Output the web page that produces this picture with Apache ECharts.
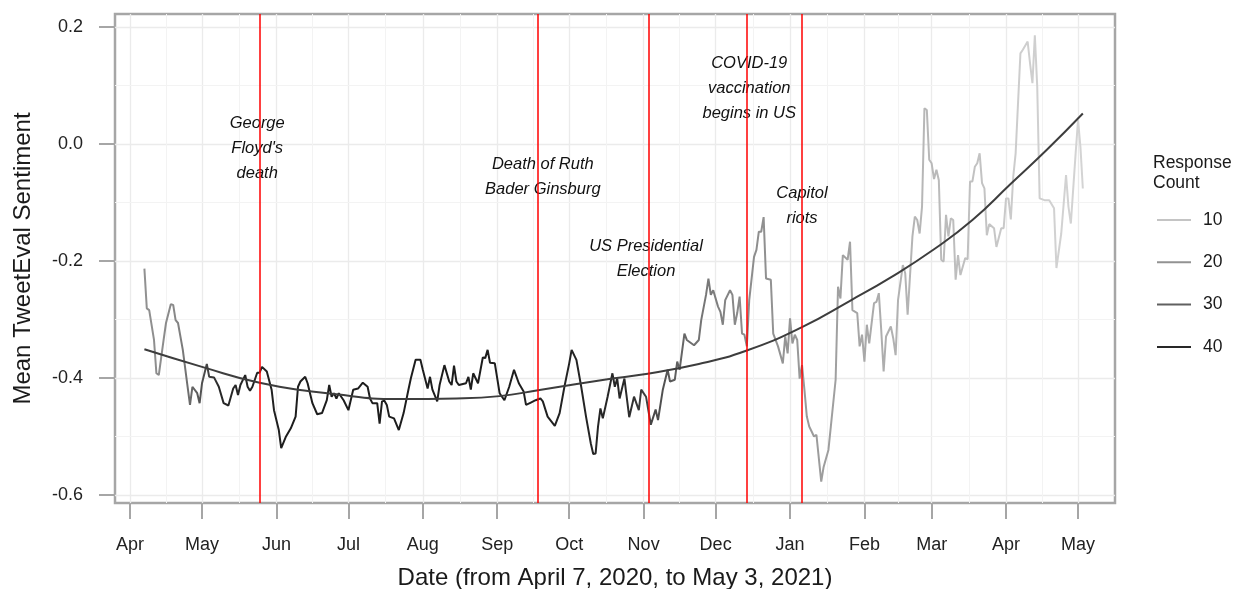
<!DOCTYPE html>
<html>
<head>
<meta charset="utf-8">
<title>Mean TweetEval Sentiment</title>
<script src="https://cdn.jsdelivr.net/npm/echarts@6/dist/echarts.min.js"></script>
<style>
  html, body { margin: 0; padding: 0; background: #fff; }
  #main { width: 1240px; height: 589px; }
</style>
</head>
<body>
<div id="main"></div>
<script type="text/javascript">
// all days are counted from April 7, 2020 (day 0) to May 3, 2021 (day 391)
var lineDays = [0,1,2,4,5,6,8,9,11,12,13,14,16,18,19,20,22,23,24,26,27,29,31,33,35,37,38,39,40,42,43,44,45,47,48,49,51,53,54,56,57,59,61,63,64,65,67,68,70,72,74,76,77,78,79,80,81,83,85,87,89,91,93,94,95,97,98,99,100,101,102,104,106,
  108,110,111,113,115,116,118,119,120,122,123,125,127,128,129,130,131,134,135,136,137,139,141,142,143,144,146,148,150,152,154,156,158,159,161,163,165,166,168,171,173,175,177,178,180,182,184,186,187,188,189,190,191,193,195,196,197,198,200,202,204,206,207,209,211,213,214,216,218,219,221,222,223,
  225,226,227,229,231,232,234,235,236,237,239,240,241,242,244,245,246,247,248,249,250,251,252,254,255,256,257,258,259,261,262,264,266,267,268,269,270,271,272,273,274,275,276,277,279,280,282,283,285,286,288,289,290,291,293,294,295,297,298,299,300,301,302,304,305,306,307,308,309,311,312,313,314,316,317,318,
  320,321,322,323,324,325,326,327,328,329,330,331,332,333,334,335,336,337,338,339,340,342,343,344,345,346,347,348,349,350,351,352,354,355,357,358,359,360,361,362,363,364,365,366,368,369,370,371,372,373,375,377,379,380,382,384,385,386,388,389,390,391];
var sentiment = [-0.213,-0.281,-0.284,-0.335,-0.392,-0.395,-0.335,-0.306,-0.274,-0.275,-0.301,-0.306,-0.352,-0.415,-0.446,-0.415,-0.426,-0.443,-0.409,-0.376,-0.398,-0.399,-0.415,-0.443,-0.447,-0.418,-0.412,-0.429,-0.412,-0.395,-0.415,-0.422,-0.415,-0.391,-0.391,-0.381,-0.389,-0.420,-0.455,-0.489,-0.520,-0.500,-0.486,-0.466,-0.415,-0.406,-0.398,-0.409,-0.443,-0.462,-0.460,-0.438,-0.412,-0.432,-0.426,-0.435,-0.426,-0.438,-0.455,-0.420,-0.418,-0.408,-0.415,-0.435,-0.443,-0.443,-0.478,-0.440,-0.439,-0.446,-0.466,-0.469,-0.489,
  -0.460,-0.420,-0.401,-0.369,-0.369,-0.386,-0.418,-0.398,-0.420,-0.440,-0.412,-0.378,-0.406,-0.412,-0.379,-0.406,-0.412,-0.409,-0.398,-0.420,-0.392,-0.409,-0.365,-0.366,-0.352,-0.374,-0.375,-0.426,-0.438,-0.415,-0.386,-0.409,-0.423,-0.446,-0.442,-0.438,-0.435,-0.440,-0.466,-0.482,-0.460,-0.415,-0.375,-0.352,-0.369,-0.415,-0.466,-0.512,-0.530,-0.529,-0.483,-0.452,-0.469,-0.432,-0.392,-0.415,-0.401,-0.435,-0.401,-0.467,-0.432,-0.455,-0.420,-0.432,-0.480,-0.454,-0.472,-0.420,-0.386,-0.406,-0.403,-0.372,-0.386,
  -0.324,-0.335,-0.338,-0.344,-0.335,-0.301,-0.258,-0.230,-0.258,-0.250,-0.278,-0.287,-0.309,-0.267,-0.250,-0.258,-0.309,-0.289,-0.261,-0.324,-0.326,-0.346,-0.267,-0.193,-0.181,-0.150,-0.150,-0.125,-0.230,-0.232,-0.324,-0.346,-0.375,-0.329,-0.358,-0.298,-0.341,-0.326,-0.335,-0.401,-0.378,-0.420,-0.466,-0.483,-0.500,-0.497,-0.577,-0.552,-0.523,-0.483,-0.403,-0.244,-0.264,-0.190,-0.198,-0.167,-0.284,-0.289,-0.346,-0.326,-0.372,-0.309,-0.341,-0.272,-0.270,-0.255,-0.318,-0.389,-0.329,-0.312,-0.332,-0.361,-0.267,-0.207,-0.221,-0.292,
  -0.158,-0.124,-0.130,-0.153,-0.107,0.061,0.058,-0.027,-0.033,-0.060,-0.044,-0.062,-0.198,-0.201,-0.121,-0.158,-0.127,-0.130,-0.232,-0.190,-0.224,-0.195,-0.197,-0.064,-0.064,-0.039,-0.033,-0.016,-0.067,-0.076,-0.156,-0.137,-0.144,-0.176,-0.144,-0.144,-0.093,-0.093,-0.129,-0.056,-0.016,0.070,0.155,0.161,0.175,0.138,0.104,0.186,0.098,-0.093,-0.096,-0.096,-0.110,-0.212,-0.153,-0.053,-0.107,-0.136,-0.016,0.041,-0.005,-0.076];

// number of responses behind each daily mean (drives the grey shade)
var countDays = [0, 14, 22, 32, 60, 150, 200, 215, 228, 245, 270, 290, 310, 330, 350, 365, 391];
var responseCount = [20, 22, 30, 40, 45, 45, 40, 33, 27, 22, 19, 17, 14, 12, 10, 8, 7];

// fitted trend curve
var trendDays = [0, 24, 48, 80, 106, 130, 148, 164, 195, 206, 231, 251, 274, 294, 311, 329, 345, 361, 376, 391];
var trendValues = [-0.351, -0.381, -0.408, -0.428, -0.436, -0.435, -0.431, -0.421, -0.401, -0.395, -0.376, -0.353, -0.313, -0.268, -0.228, -0.180, -0.130, -0.068, -0.010, 0.052];

var monthTicks = ['2020-04-01','2020-05-01','2020-06-01','2020-07-01','2020-08-01','2020-09-01','2020-10-01','2020-11-01','2020-12-01','2021-01-01','2021-02-01','2021-03-01','2021-04-01','2021-05-01'];
var monthNames = ['Jan','Feb','Mar','Apr','May','Jun','Jul','Aug','Sep','Oct','Nov','Dec'];
var yTicks = [-0.6, -0.4, -0.2, 0.0, 0.2];

var eventDates = ['2020-05-25', '2020-09-18', '2020-11-03', '2020-12-14', '2021-01-06'];
// text notes: [date, sentiment, text]
var notes = [
  ['2020-05-24', -0.007, "George\nFloyd's\ndeath"],
  ['2020-09-20', -0.057, 'Death of Ruth\nBader Ginsburg'],
  ['2020-11-02', -0.196, 'US Presidential\nElection'],
  ['2020-12-15', 0.095, 'COVID-19\nvaccination\nbegins in US'],
  ['2021-01-06', -0.106, 'Capitol\nriots']
];
var legendCounts = [10, 20, 30, 40];

var FONT = '"Liberation Sans", Arial, Helvetica, sans-serif';

function toTime(str) {
  var p = str.split('-');
  return new Date(+p[0], +p[1] - 1, +p[2]).getTime();
}
function dayTime(d) {
  return new Date(2020, 3, 7).getTime() + d * 86400000;
}
// grey shade for a response count
function greyFor(c) {
  var st = [[5, 222], [10, 196], [20, 146], [30, 96], [40, 40], [50, 18]];
  var g = c <= st[0][0] ? st[0][1] : st[st.length - 1][1];
  for (var i = 0; i < st.length - 1; i++) {
    if (c >= st[i][0] && c <= st[i + 1][0]) {
      var t = (c - st[i][0]) / (st[i + 1][0] - st[i][0]);
      g = st[i][1] + t * (st[i + 1][1] - st[i][1]);
    }
  }
  g = Math.round(g);
  return 'rgb(' + g + ',' + g + ',' + g + ')';
}

var chart = echarts.init(document.getElementById('main'));

var lineData = lineDays.map(function (d, i) { return [dayTime(d), sentiment[i]]; });
var trendData = trendDays.map(function (d, i) { return [dayTime(d), trendValues[i]]; });
var lastDay = lineDays[lineDays.length - 1];
var stops = countDays.map(function (d, i) {
  return { offset: d / lastDay, color: greyFor(responseCount[i]) };
});
var monthTimes = monthTicks.map(toTime);

// minor grid lines halfway between the major breaks
var minorX = [], minorY = [];
for (var i = 0; i < monthTimes.length - 1; i++) minorX.push({ xAxis: (monthTimes[i] + monthTimes[i + 1]) / 2 });
for (var j = 0; j < yTicks.length - 1; j++) minorY.push({ yAxis: (yTicks[j] + yTicks[j + 1]) / 2 });

var legendSeries = legendCounts.map(function (c) {
  return {
    name: String(c), type: 'line', data: [],
    itemStyle: { color: greyFor(c) }, lineStyle: { color: greyFor(c) }
  };
});

var option = {
  animation: false,
  textStyle: { fontFamily: FONT },
  title: {
    text: 'Response\nCount',
    left: 1148, top: 148,
    textStyle: { fontSize: 17.5, fontWeight: 'normal', color: '#1a1a1a', lineHeight: 20, fontFamily: FONT }
  },
  legend: {
    data: legendCounts.map(String),
    orient: 'vertical',
    left: 1152, top: 206,
    icon: 'rect',
    itemWidth: 34, itemHeight: 2,
    itemGap: 24.3,
    textStyle: { fontSize: 17.5, color: '#1a1a1a', lineHeight: 18, padding: [0, 0, 0, 7] },
    selectedMode: false
  },
  grid: {
    left: 115, right: 125, top: 14, bottom: 86,
    outerBoundsMode: 'none', containLabel: false,
    show: true, borderColor: '#a6a6a6', borderWidth: 2.5, backgroundColor: '#fff'
  },
  xAxis: {
    type: 'value', position: 'bottom',
    min: dayTime(-12.25), max: dayTime(404.4),
    name: 'Date (from April 7, 2020, to May 3, 2021)',
    nameLocation: 'middle', nameGap: 63,
    nameTextStyle: { fontSize: 24, color: '#1a1a1a' },
    axisLine: { show: false, onZero: false },
    axisTick: { show: true, customValues: monthTimes, length: 16, lineStyle: { color: '#a6a6a6', width: 2 } },
    axisLabel: {
      customValues: monthTimes, margin: 33, fontSize: 18, color: '#222',
      formatter: function (v) { return monthNames[new Date(v).getMonth()]; }
    },
    splitLine: { show: true, lineStyle: { color: '#ebebeb', width: 1.3 } }
  },
  yAxis: {
    type: 'value',
    min: -0.6137, max: 0.2222,
    name: 'Mean TweetEval Sentiment',
    nameLocation: 'middle', nameGap: 80,
    nameTextStyle: { fontSize: 24, color: '#1a1a1a' },
    axisLine: { show: false, onZero: false },
    axisTick: { show: true, customValues: yTicks, length: 16, lineStyle: { color: '#a6a6a6', width: 2 } },
    axisLabel: {
      customValues: yTicks, margin: 32, fontSize: 18, color: '#222',
      formatter: function (v) { return v.toFixed(1); }
    },
    splitLine: { show: true, lineStyle: { color: '#ebebeb', width: 1.3 } }
  },
  series: [
    {
      name: 'minor grid', type: 'line', data: [], z: 1, silent: true,
      markLine: {
        z: 1, silent: true, symbol: 'none', label: { show: false },
        lineStyle: { color: '#f3f3f3', width: 1, type: 'solid' },
        data: minorX.concat(minorY)
      }
    },
    {
      name: 'sentiment', type: 'line', data: lineData, z: 3,
      showSymbol: false, symbol: 'none', silent: true,
      lineStyle: {
        width: 2,
        color: { type: 'linear', x: 0, y: 0, x2: 1, y2: 0, colorStops: stops }
      }
    },
    {
      name: 'trend', type: 'line', data: trendData, z: 4,
      smooth: true, showSymbol: false, symbol: 'none', silent: true,
      lineStyle: { width: 2, color: '#3d3d3d' }
    },
    {
      name: 'notes', type: 'scatter', z: 5, silent: true,
      symbolSize: 0, itemStyle: { opacity: 1 },
      data: notes.map(function (n) { return { value: [toTime(n[0]), n[1]], name: n[2] }; }),
      label: {
        show: true, position: [0, 0], formatter: '{b}',
        fontSize: 16.5, fontStyle: 'italic', color: '#111', lineHeight: 25,
        align: 'center', verticalAlign: 'middle', textBorderWidth: 0
      }
    },
    {
      name: 'events', type: 'line', data: [], z: 10, silent: true,
      markLine: {
        z: 12, silent: true, symbol: 'none', label: { show: false },
        lineStyle: { color: '#ff0000', width: 1.5, type: 'solid' },
        data: eventDates.map(function (d) { return { xAxis: toTime(d) }; })
      }
    }
  ].concat(legendSeries)
};

chart.setOption(option);
</script>
</body>
</html>
